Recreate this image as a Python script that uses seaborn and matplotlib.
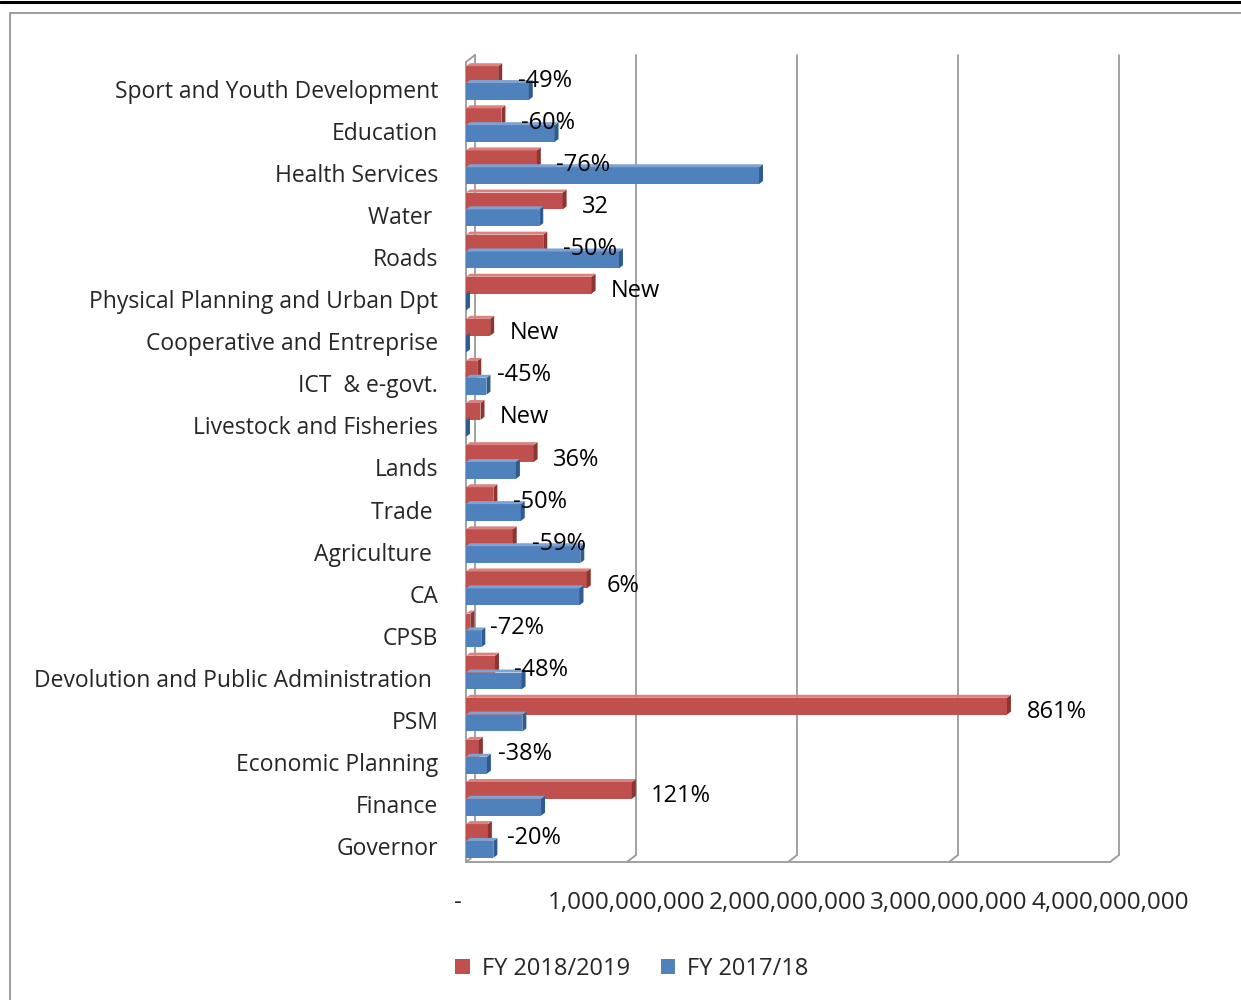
import matplotlib
matplotlib.use("Agg")
import matplotlib.pyplot as plt
import matplotlib.transforms as mtransforms
from matplotlib.patches import Polygon, Rectangle
from matplotlib.lines import Line2D
import seaborn as sns
import pandas as pd

categories = ["Sport and Youth Development", "Education", "Health Services", "Water ",
              "Roads", "Physical Planning and Urban Dpt", "Cooperative and Entreprise",
              "ICT  & e-govt.", "Livestock and Fisheries", "Lands", "Trade ", "Agriculture ",
              "CA", "CPSB", "Devolution and Public Administration ", "PSM",
              "Economic Planning", "Finance", "Governor"]
fy_2018_19 = [0.20e9, 0.22e9, 0.44e9, 0.60e9, 0.48e9, 0.78e9, 0.15e9, 0.07e9, 0.09e9,
              0.42e9, 0.17e9, 0.29e9, 0.75e9, 0.027e9, 0.18e9, 3.36e9, 0.08e9, 1.03e9, 0.136e9]
fy_2017_18 = [0.39e9, 0.55e9, 1.82e9, 0.455e9, 0.95e9, 0.0, 0.0, 0.127e9, 0.0,
              0.31e9, 0.34e9, 0.71e9, 0.705e9, 0.095e9, 0.345e9, 0.35e9, 0.13e9, 0.466e9, 0.17e9]
change_labels = ["-49%", "-60%", "-76%", "32", "-50%", "New", "New", "-45%", "New", "36%",
                 "-50%", "-59%", "6%", "-72%", "-48%", "861%", "-38%", "121%", "-20%"]
series_names = ["FY 2018/2019", "FY 2017/18"]
x_ticks = [0, 1e9, 2e9, 3e9, 4e9]
x_tick_labels = ["-", "1,000,000,000", "2,000,000,000", "3,000,000,000", "4,000,000,000"]

RED = "#C0504D"
BLUE = "#4F81BD"

df = pd.DataFrame({
    "Department": categories * 2,
    "Amount": fy_2018_19 + fy_2017_18,
    "Series": [series_names[0]] * len(categories) + [series_names[1]] * len(categories),
})

sns.set_style("white")
plt.rcParams["font.family"] = ["Open Sans", "DejaVu Sans"]
FS_CAT = 16.5
FS_TICK = 17.5
FS_LAB = 17
FS_LEG = 17

W, H, DPI = 1241, 1000, 100
fig = plt.figure(figsize=(W / DPI, H / DPI), dpi=DPI)

# outer decoration: thick black rule and gray frame
fig.add_artist(Line2D([0, 1], [1 - 1.5 / H, 1 - 1.5 / H], color="black", lw=2.2, transform=fig.transFigure))
fig.add_artist(Rectangle((10 / W, -0.05), 1.2, 1 - 13 / H + 0.05, transform=fig.transFigure,
                         fill=False, edgecolor="#8c8c8c", lw=1.2))

x0, x1 = 466, 1110
ytop, ybot = 62, 862
ax = fig.add_axes([x0 / W, 1 - ybot / H, (x1 - x0) / W, (ybot - ytop) / H])

sns.barplot(data=df, y="Department", x="Amount", hue="Series", orient="h",
            palette=[RED, BLUE], hue_order=series_names, order=categories,
            width=0.8, ax=ax, legend=True, saturation=1, edgecolor="none")

ax.set_xlim(0, 4e9)
ax.set_ylim(len(categories) - 0.5, -0.5)
ax.set_xlabel("")
ax.set_ylabel("")
for s in ax.spines.values():
    s.set_visible(False)

fig.canvas.draw()
px_x = 4e9 / (x1 - x0)
px_y = len(categories) / (ybot - ytop)

# 3D wall / floor lines
dx, dy = 9, 7
grid_c = "#9a9a9a"
for xv in x_ticks:
    ax.plot([xv + dx * px_x, xv + dx * px_x], [-0.5 - dy * px_y, len(categories) - 0.5 - dy * px_y],
            color=grid_c, lw=1.3, zorder=0.5, clip_on=False)
    ax.plot([xv, xv + dx * px_x], [len(categories) - 0.5, len(categories) - 0.5 - dy * px_y],
            color=grid_c, lw=1.3, zorder=0.5, clip_on=False)
ax.plot([0, 0], [-0.5, len(categories) - 0.5], color=grid_c, lw=1.3, zorder=0.5, clip_on=False)
ax.plot([0, dx * px_x], [-0.5, -0.5 - dy * px_y], color=grid_c, lw=1.3, zorder=0.5, clip_on=False)
ax.plot([0, 4e9], [len(categories) - 0.5, len(categories) - 0.5], color=grid_c, lw=1.3,
        zorder=0.5, clip_on=False)

# 3D caps on bars
cdx, cdy = 4, 3
for p, col in zip(ax.patches, [RED] * len(categories) + [BLUE] * len(categories)):
    if not isinstance(p, Rectangle) or p.get_height() == 0:
        continue
    xe = p.get_x() + p.get_width()
    yt = p.get_y()
    yb = p.get_y() + p.get_height()
    dark = "#8E3431" if col == RED else "#2F5C8E"
    light = "#D9827F" if col == RED else "#7EA3D3"
    side = Polygon([(xe, yt), (xe + cdx * px_x, yt - cdy * px_y), (xe + cdx * px_x, yb - cdy * px_y), (xe, yb)],
                   closed=True, facecolor=dark, edgecolor="none", zorder=3)
    top = Polygon([(p.get_x(), yt), (p.get_x() + cdx * px_x, yt - cdy * px_y), (xe + cdx * px_x, yt - cdy * px_y), (xe, yt)],
                  closed=True, facecolor=light, edgecolor="none", zorder=3)
    ax.add_patch(side)
    ax.add_patch(top)

# percentage labels, right of the red bars
for i, (v, lab) in enumerate(zip(fy_2018_19, change_labels)):
    ax.annotate(lab, xy=(v, i), xytext=(14, 1.8), textcoords="offset points",
                ha="left", va="center", fontsize=FS_LAB, color="black", zorder=5)

ax.set_xticks(x_ticks)
ax.set_xticklabels(x_tick_labels, fontsize=FS_TICK)
ax.tick_params(axis="x", length=0, pad=21)
ax.tick_params(axis="y", length=0, pad=20, labelsize=FS_CAT)
off = mtransforms.ScaledTranslation(0, -5.5 / DPI, fig.dpi_scale_trans)
for t in ax.get_yticklabels():
    t.set_transform(t.get_transform() + off)
xoff = mtransforms.ScaledTranslation(-8 / DPI, 0, fig.dpi_scale_trans)
xt = ax.get_xticklabels()[0]
xt.set_transform(xt.get_transform() + xoff)

leg = ax.legend(loc="center", bbox_to_anchor=((632 - x0) / (x1 - x0), -(969 - ybot) / (ybot - ytop)),
                ncol=2, frameon=False, fontsize=FS_LEG, handlelength=0.62, handleheight=0.62,
                handletextpad=0.5, columnspacing=1.3)

fig.savefig("out.png", dpi=DPI)
